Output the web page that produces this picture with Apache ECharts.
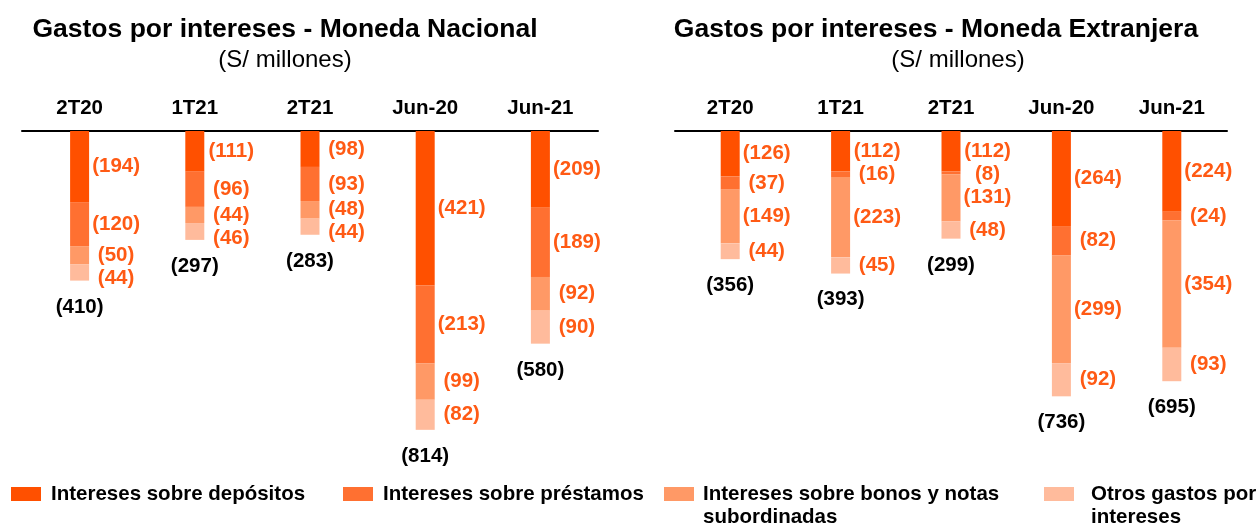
<!DOCTYPE html>
<html>
<head>
<meta charset="utf-8">
<script src="https://cdn.jsdelivr.net/npm/echarts@6/dist/echarts.min.js"></script>
<style>
	html, body { margin: 0; padding: 0; background: #fff; }
	#main { width: 1259px; height: 526px; }
</style>
</head>
<body>
<div id="main"></div>
<script>
var categories = ['2T20', '1T21', '2T21', 'Jun-20', 'Jun-21'];

// Moneda Nacional (S/ millones)
var mnDepositos = [194, 111, 98, 421, 209];
var mnPrestamos = [120, 96, 93, 213, 189];
var mnBonos = [50, 44, 48, 99, 92];
var mnOtros = [44, 46, 44, 82, 90];
var mnTotal = [410, 297, 283, 814, 580];

// Moneda Extranjera (S/ millones)
var meDepositos = [126, 112, 112, 264, 224];
var mePrestamos = [37, 16, 8, 82, 24];
var meBonos = [149, 223, 131, 299, 354];
var meOtros = [44, 45, 48, 92, 93];
var meTotal = [356, 393, 299, 736, 695];

var serieNames = ['Intereses sobre depósitos', 'Intereses sobre préstamos', 'Intereses sobre bonos y notas subordinadas', 'Otros gastos por intereses'];
var colores = ['#FF5000', '#FF7031', '#FF9966', '#FFBB9C'];
var FONT = 'Liberation Sans, Arial, sans-serif';
var YMIN = -900;
var gridH = [330, 324];

var dom = document.getElementById('main');
var myChart = echarts.init(dom);

function neg(arr) {
	return arr.map(function (v) { return -v; });
}

// separa las etiquetas de cada columna para que no se monten
function labelPos(grupos, chartIdx) {
	var k = gridH[chartIdx] / -YMIN;
	return function (params) {
		var serie = params.seriesIndex % 5;
		var col = params.dataIndex;
		var acum = 0, prev = -100, ys = [];
		for (var j = 0; j < 4; j++) {
			var v = grupos[j][col];
			var mid = (acum + v / 2) * k;
			var y = Math.max(mid, prev + 23);
			ys.push(y - mid);
			prev = y;
			acum += v;
		}
		return { dx: 27, dy: ys[serie] };
	};
}

function buildSeries(grupos, total, idx) {
	var out = [];
	for (var j = 0; j < 4; j++) {
		out.push({
			name: serieNames[j],
			type: 'bar',
			stack: 'g' + idx,
			xAxisIndex: idx,
			yAxisIndex: idx,
			barWidth: 19,
			itemStyle: { color: colores[j] },
			label: {
				show: true,
				position: 'right',
				distance: 0,
				align: 'center',
				color: '#FF5A14',
				fontFamily: FONT,
				fontWeight: 'bold',
				fontSize: 20.5,
				formatter: function (p) { return '(' + Math.abs(p.value) + ')'; }
			},
			labelLayout: labelPos(grupos, idx),
			emphasis: { disabled: true },
			data: neg(grupos[j])
		});
	}
	out.push({
		name: 'total' + idx,
		type: 'scatter',
		xAxisIndex: idx,
		yAxisIndex: idx,
		symbolSize: 0,
		silent: true,
		itemStyle: { opacity: 1 },
		label: {
			show: true,
			position: 'bottom',
			distance: 16,
			color: '#000',
			fontFamily: FONT,
			fontWeight: 'bold',
			fontSize: 20.5,
			formatter: function (p) { return '(' + Math.abs(p.value) + ')'; }
		},
		data: neg(total)
	});
	return out;
}

function legendItem(i, left, dosLineas, gap) {
	return {
		left: left,
		top: dosLineas ? 454.5 : 477.5,
		selectedMode: false,
		icon: 'rect',
		itemWidth: 30,
		itemHeight: 14,
		data: [serieNames[i]],
		formatter: function (name) {
			// linea vacia al inicio para que la primera linea quede a la altura del cuadro
			if (name == serieNames[2]) return '\nIntereses sobre bonos y notas\nsubordinadas';
			if (name == serieNames[3]) return '\nOtros gastos por\nintereses';
			return name;
		},
		textStyle: {
			color: '#000',
			fontFamily: FONT,
			fontWeight: 'bold',
			fontSize: 20.5,
			lineHeight: 23,
			padding: [0, 0, 0, gap]
		}
	};
}

function xAxisCfg(idx) {
	return {
		type: 'category',
		gridIndex: idx,
		position: 'top',
		data: categories,
		axisLine: { show: true, onZero: false, lineStyle: { color: '#000', width: 2 } },
		axisTick: { show: false },
		axisLabel: {
			margin: 12,
			color: '#000',
			fontFamily: FONT,
			fontWeight: 'bold',
			fontSize: 20.5,
			interval: 0
		}
	};
}

var option = {
	animation: false,
	title: [
		{ text: 'Gastos por intereses - Moneda Nacional', left: 280, top: 11, textAlign: 'center',
			textStyle: { fontFamily: FONT, fontWeight: 'bold', fontSize: 26.5, color: '#000' } },
		{ text: '(S/ millones)', left: 280, top: 43, textAlign: 'center',
			textStyle: { fontFamily: FONT, fontWeight: 'normal', fontSize: 24, color: '#000' } },
		{ text: 'Gastos por intereses - Moneda Extranjera', left: 931, top: 11, textAlign: 'center',
			textStyle: { fontFamily: FONT, fontWeight: 'bold', fontSize: 26.5, color: '#000' } },
		{ text: '(S/ millones)', left: 953, top: 43, textAlign: 'center',
			textStyle: { fontFamily: FONT, fontWeight: 'normal', fontSize: 24, color: '#000' } }
	],
	legend: [
		legendItem(0, 6, false, 5),
		legendItem(1, 338, false, 5),
		legendItem(2, 659, true, 4),
		legendItem(3, 1039, true, 12)
	],
	grid: [
		{ left: 22, top: 131, width: 576, height: gridH[0] },
		{ left: 675, top: 131, width: 552, height: gridH[1] }
	],
	xAxis: [xAxisCfg(0), xAxisCfg(1)],
	yAxis: [
		{ type: 'value', gridIndex: 0, min: YMIN, max: 0, show: false },
		{ type: 'value', gridIndex: 1, min: YMIN, max: 0, show: false }
	],
	series: buildSeries([mnDepositos, mnPrestamos, mnBonos, mnOtros], mnTotal, 0)
		.concat(buildSeries([meDepositos, mePrestamos, meBonos, meOtros], meTotal, 1))
};

if (option && typeof option === "object") {
	myChart.setOption(option, true);
}
</script>
</body>
</html>
